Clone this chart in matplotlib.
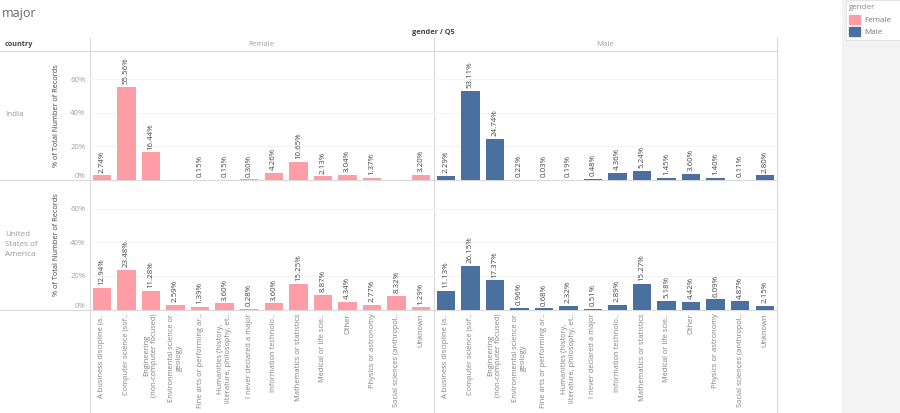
import numpy as np
import matplotlib
matplotlib.use("Agg")
import matplotlib.pyplot as plt
from matplotlib.patches import Patch, Rectangle

plt.rcParams['font.family'] = ['Open Sans', 'DejaVu Sans']

majors = ['A business discipline (a..', 'Computer science (sof..',
          'Engineering\n(non-computer focused)', 'Environmental science or\ngeology',
          'Fine arts or performing ar..', 'Humanities (history,\nliterature, philosophy, et..',
          'I never declared a major', 'Information technolo..',
          'Mathematics or statistics', 'Medical or life scie..', 'Other',
          'Physics or astronomy', 'Social sciences (anthropol..', 'Unknown']
genders = ['Female', 'Male']
countries = ['India', 'United\nStates of\nAmerica']
pct_ticks = [0, 20, 40, 60]

india_female = [2.74, 55.56, 16.44, np.nan, 0.15, 0.15, 0.30, 4.26, 10.65, 2.13, 3.04, 1.37, np.nan, 3.20]
india_male = [2.29, 53.11, 24.74, 0.22, 0.03, 0.19, 0.48, 4.36, 5.24, 1.45, 3.60, 1.40, 0.11, 2.80]
usa_female = [12.94, 23.48, 11.28, 2.59, 1.39, 3.60, 0.28, 3.60, 15.25, 8.87, 4.34, 2.77, 8.32, 1.29]
usa_male = [11.13, 26.15, 17.37, 0.96, 0.68, 2.32, 0.51, 2.89, 15.27, 5.18, 4.42, 6.09, 4.87, 2.15]

PINK = '#FF9DA7'
BLUE = '#49709F'
LINE = '#D9D9D9'
W, H = 900, 413

fig = plt.figure(figsize=(W / 100, H / 100), dpi=100)

# overlay in pixel coordinates for the headers and pane lines
bg = fig.add_axes([0, 0, 1, 1], zorder=0)
bg.set_xlim(0, W)
bg.set_ylim(H, 0)
bg.axis('off')


def pane(x0, x1, y0, y1):
    # pixel box (top-left origin) to an axes
    return fig.add_axes([x0 / W, 1 - y1 / H, (x1 - x0) / W, (y1 - y0) / H], zorder=1)


rows = [(50.5, 180), (180, 309.5)]
cols = [(89.5, 433.5), (433.5, 777)]
values = [[india_female, india_male], [usa_female, usa_male]]
colors = [PINK, BLUE]

for r, (y0, y1) in enumerate(rows):
    for c, (x0, x1) in enumerate(cols):
        ax = pane(x0, x1, y0, y1)
        ax.patch.set_alpha(0)
        vals = values[r][c]
        x = np.arange(len(majors))
        ax.bar(x, vals, width=0.75, color=colors[c], zorder=2)
        ax.set_xlim(-0.5, len(majors) - 0.5)
        ax.set_ylim(0, 77.3)
        for s in ax.spines.values():
            s.set_visible(False)
        ax.set_yticks(pct_ticks)
        ax.grid(axis='y', color='#F4F4F4', lw=0.7, zorder=0)
        ax.set_axisbelow(True)
        ax.tick_params(length=0)

        # value labels above the bars
        for xi, v in zip(x, vals):
            if not np.isnan(v):
                ax.annotate(f'{v:.2f}%', (xi, v), xytext=(0, 2), textcoords='offset points',
                            rotation=90, ha='center', va='bottom', fontsize=5.7, color='#444444')

        if c == 0:
            ax.set_yticklabels([f'{t}%' for t in pct_ticks], fontsize=5.6, color='#A0A0A0')
            ax.tick_params(axis='y', pad=3)
            ax.get_yticklabels()[0].set_va('bottom')
            ax.set_ylabel('% of Total Number of Records', fontsize=5.3, color='#444444')
            ax.yaxis.set_label_coords(-0.0858, 0.5)
        else:
            ax.tick_params(axis='y', labelleft=False)

        if r == 1:
            ax.set_xticks(x)
            ax.set_xticklabels(majors, rotation=90, ha='center', va='top', fontsize=5.4,
                               color='#808080', linespacing=1.2)
            ax.tick_params(axis='x', pad=3)
        else:
            ax.set_xticks([])

# pane lines
for xv in [89.5, 433.5, 777]:
    bg.plot([xv, xv], [38, H], color=LINE, lw=0.8)
for yv in [50.5, 180, 309.5]:
    bg.plot([0, 777], [yv, yv], color=LINE, lw=0.8)

# headers
bg.text(2, 13, 'major', fontsize=9, color='#666666', va='center')
bg.text(433, 32.5, 'gender / Q5', fontsize=5.3, color='#444444', fontweight='bold', ha='center', va='center')
bg.text(5, 44.5, 'country', fontsize=5.2, color='#444444', fontweight='bold', va='center')
bg.text(261, 44.5, genders[0], fontsize=5.6, color='#A0A0A0', ha='center', va='center')
bg.text(605, 44.5, genders[1], fontsize=5.6, color='#A0A0A0', ha='center', va='center')
bg.text(5, 115, countries[0], fontsize=5.8, color='#999999', va='center')
bg.text(5, 244.5, countries[1], fontsize=5.8, color='#999999', va='center', linespacing=1.5)

# side panel with the legend card
bg.add_patch(Rectangle((842, 0), 58, H, color='#F3F3F3', lw=0))
bg.add_patch(Rectangle((846, 0), 54, 40, facecolor='white', edgecolor='#E2E2E2', lw=0.6))
handles = [Patch(color=PINK), Patch(color=BLUE)]
leg = fig.legend(handles, genders, title='gender', loc='upper left', bbox_to_anchor=(846 / W, 1 - 1.5 / H),
                 frameon=False, fontsize=5.8, title_fontsize=5.8, alignment='left',
                 handlelength=1.35, handleheight=1.35, handletextpad=0.6, labelspacing=0.4,
                 borderpad=0.35, borderaxespad=0)
leg.get_title().set_color('#888888')
for t in leg.get_texts():
    t.set_color('#777777')

fig.savefig('out.png', dpi=100)
